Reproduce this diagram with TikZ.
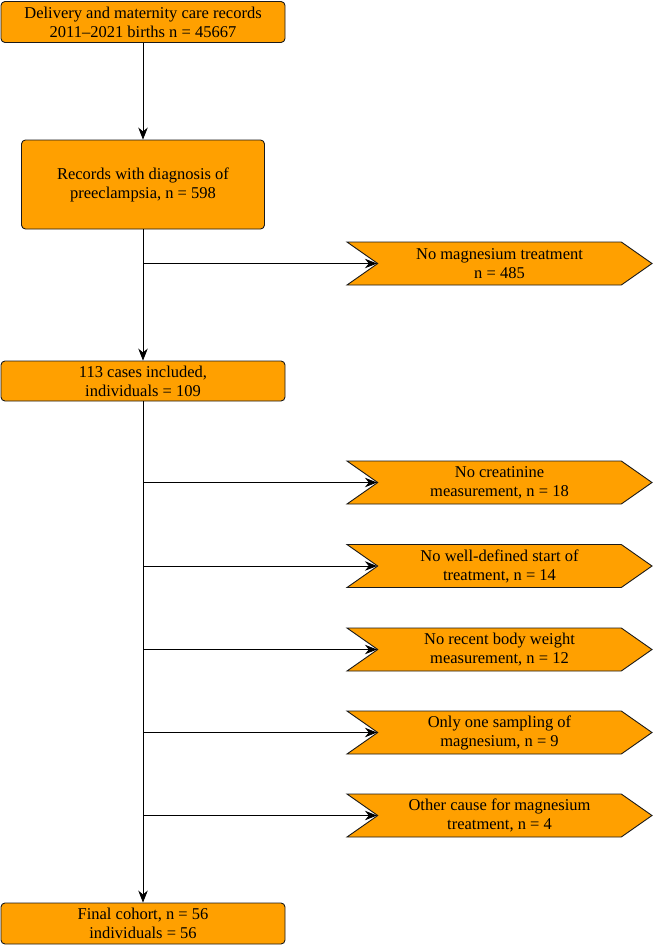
\documentclass[tikz,border=0pt]{standalone}
\usepackage{fontspec}
\setmainfont{Liberation Serif}
\usepackage{xcolor}
\usetikzlibrary{shapes.symbols, arrows.meta, positioning, calc}
\definecolor{boxfill}{HTML}{FFA000}
\definecolor{boxline}{HTML}{1A1A1A}

\begin{document}
\begin{tikzpicture}[
  x=1pt, y=1pt,
  stage/.style={rectangle, rounded corners=4pt, draw=boxline, fill=boxfill, line width=0.9pt, minimum width=284pt, minimum height=41pt, align=center, font=\fontsize{16.5}{19}\selectfont, inner sep=1pt},
  excluded/.style={signal, signal to=east, signal from=west, signal pointer angle=70, draw=boxline, fill=boxfill, line width=0.9pt, minimum width=305pt, minimum height=43pt, align=center, font=\fontsize{16.5}{19}\selectfont, inner sep=1pt},
  arrow/.style={-{Stealth[length=12pt, width=9.5pt]}, line width=0.8pt, color=black},
]
  \useasboundingbox (0,0) rectangle (653,-945);

  \node[stage] (records) at (143,-22) {Delivery and maternity care records\\2011--2021 births n = 45667};
  \node[stage, minimum width=243pt, minimum height=89pt] (diagnosis) at (143,-184.5) {Records with diagnosis of\\preeclampsia, n = 598};
  \node[stage, minimum height=40pt] (included) at (143,-381) {113 cases included,\\individuals = 109};
  \node[stage] (final) at (143,-923.5) {Final cohort, n = 56\\individuals = 56};

  \node[excluded] (nomag) at (499.5,-263.5) {No magnesium treatment\\n = 485};
  \node[excluded] (nocrea) at (499.5,-482.5) {No creatinine\\measurement, n = 18};
  \node[excluded] (nostart) at (499.5,-566) {No well-defined start of\\treatment, n = 14};
  \node[excluded] (noweight) at (499.5,-649.5) {No recent body weight\\measurement, n = 12};
  \node[excluded] (onesample) at (499.5,-732.5) {Only one sampling of\\magnesium, n = 9};
  \node[excluded] (othercause) at (499.5,-815.5) {Other cause for magnesium\\treatment, n = 4};

  % main flow
  \draw[arrow] (records.south) -- (diagnosis.north);
  \draw[arrow] (diagnosis.south) -- (included.north);
  \draw[arrow] (included.south) -- (final.north);

  % exclusions
  \draw[arrow] (diagnosis.south |- nomag.west) -- (nomag.west);
  \foreach \ex in {nocrea, nostart, noweight, onesample, othercause}
    \draw[arrow] (included.south |- \ex.west) -- (\ex.west);

\end{tikzpicture}
\end{document}
